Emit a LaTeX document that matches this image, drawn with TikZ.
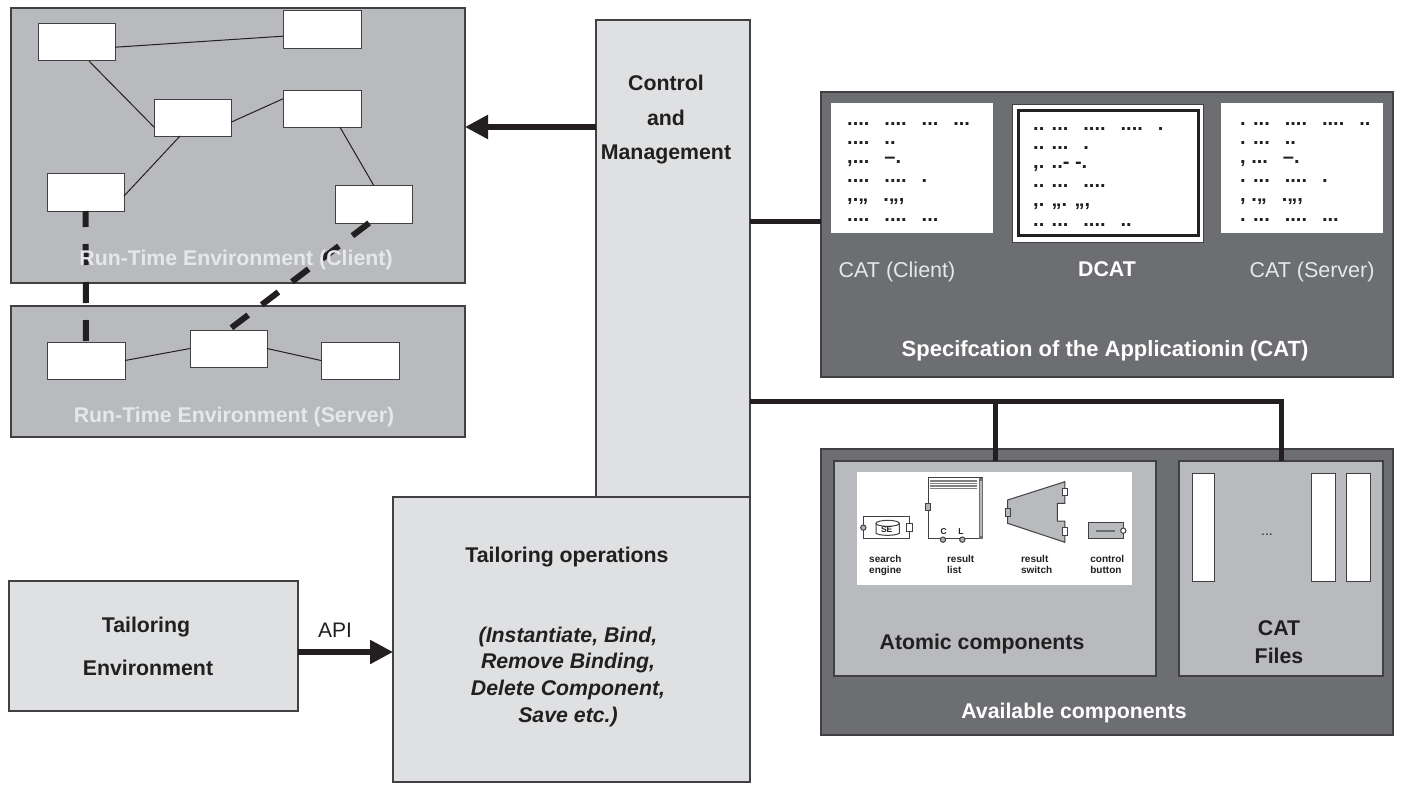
\documentclass[tikz,border=0pt]{standalone}
\usepackage{fontspec}
\setmainfont{Liberation Sans}
\usetikzlibrary{arrows.meta}
\definecolor{panelgray}{HTML}{B9BABD}
\definecolor{darkpanel}{HTML}{6D6E71}
\definecolor{lightpanel}{HTML}{DFE0E2}
\definecolor{ink}{HTML}{231F20}
\definecolor{edgegray}{HTML}{414042}
\definecolor{pale}{HTML}{E6E7E8}
\newcommand{\gp}{\hspace*{15pt}}
\tikzset{
 x=1pt,y=-1pt,
 panel/.style={draw=edgegray,line width=1.2pt,fill=panelgray,inner sep=0,outer sep=0},
 darkbox/.style={draw=edgegray,line width=1.2pt,fill=darkpanel,inner sep=0,outer sep=0},
 lightbox/.style={draw=edgegray,line width=1.1pt,fill=lightpanel,inner sep=0,outer sep=0},
 whitebox/.style={draw=edgegray,line width=1pt,fill=white,inner sep=0,outer sep=0},
 plainwhite/.style={fill=white,inner sep=0,outer sep=0},
 thinlink/.style={draw=ink,line width=1pt},
 dashlink/.style={draw=ink,line width=6pt,dash pattern=on 21pt off 17pt},
 thicklink/.style={draw=ink,line width=5pt},
 arrowlink/.style={draw=ink,line width=5.3pt,-{Triangle[length=23pt,width=23pt]}},
 label/.style={anchor=base,inner sep=0,font=\fontsize{21.3}{24}\selectfont\bfseries,text=ink},
 palelabel/.style={label,text=pale},
 ilabel/.style={label,font=\fontsize{21.3}{24}\selectfont\bfseries\itshape},
 catlabel/.style={anchor=base,inner sep=0,font=\fontsize{21.5}{24}\selectfont,text=pale},
 dots/.style={anchor=north west,inner sep=0,align=left,text=ink,font=\fontsize{20}{19.2}\selectfont\bfseries},
 icontext/.style={anchor=north,inner sep=0,align=left,text=ink,font=\fontsize{10}{11}\selectfont\bfseries},
 iconline/.style={draw=edgegray,line width=1pt},
}
\newcommand{\bx}[6]{\node[#1,minimum width=#5pt-#3pt,minimum height=#6pt-#4pt] (#2) at ({(#3+#5)/2},{(#4+#6)/2}) {};}
\begin{document}
\begin{tikzpicture}
\useasboundingbox (0,0) rectangle (1402,784);
% panels
\bx{panel}{client}{11}{8}{465}{283}
\bx{panel}{server}{11}{306}{465}{437}
% client boxes
\bx{whitebox}{A}{38}{24}{115}{61}
\bx{whitebox}{B}{283}{11}{361}{49}
\bx{whitebox}{C}{154}{99}{231}{136}
\bx{whitebox}{D}{283}{90}{361}{127}
\bx{whitebox}{E}{47}{173}{124}{211}
\bx{whitebox}{F}{335}{185}{412}{223}
% server boxes
\bx{whitebox}{G}{47}{342}{125}{379}
\bx{whitebox}{H}{190}{330}{267}{367}
\bx{whitebox}{I}{321}{342}{399}{379}
\draw[thinlink] (A.-7) -- (B.189);
\draw[thinlink] (A.-56) -- (C.194);
\draw[thinlink] (C.-7) -- (D.166);
\draw[thinlink] (C.236) -- (E.-6);
\draw[thinlink] (D.-46) -- (F.north);
\draw[thinlink] (G.east) -- (H.west);
\draw[thinlink] (H.east) -- (I.west);
\draw[dashlink,dash phase=5pt] (E.south) -- (G.north);
\draw[dashlink] (F.257) -- (H.north);
\node[palelabel] (clientlabel) at (236,265) {Run-Time Environment (Client)};
\node[palelabel] (serverlabel) at (234,422) {Run-Time Environment (Server)};
% control
\bx{lightbox}{control}{596}{20}{750}{497}
\bx{lightbox}{tailoring}{393}{497}{750}{782}
\bx{lightbox}{environment}{9}{581}{298}{711}
\node[label] (c1) at (666,90) {Control};
\node[label] (c2) at (666,125) {and};
\node[label] (c3) at (666,159) {Management};
\node[label] (t0) at (567,562) {Tailoring operations};
\node[ilabel] (t1) at (568,642) {(Instantiate, Bind,};
\node[ilabel] (t2) at (568,668) {Remove Binding,};
\node[ilabel] (t3) at (568,695) {Delete Component,};
\node[ilabel] (t4) at (568,722) {Save etc.)};
\node[label] (e1) at (146,632) {Tailoring};
\node[label] (e2) at (148,675) {Environment};
\node[anchor=base,inner sep=0,font=\fontsize{21}{24}\selectfont,text=ink] (api) at (335,637) {API};
% CAT panel
\bx{darkbox}{catpanel}{821}{92}{1393}{377}
\bx{plainwhite}{cat1}{831}{103}{993}{233}
\node[draw=edgegray,line width=.8pt,fill=white,inner sep=0,outer sep=0,minimum width=191pt,minimum height=138pt] (dcatouter) at (1107.5,173) {};
\node[draw=ink,line width=3.2pt,fill=white,inner sep=0,outer sep=0,minimum width=180pt,minimum height=125pt] (dcat) at (1108.5,173) {};
\bx{plainwhite}{cat2}{1221}{103}{1383}{233}
\node[dots] (d1) at (847,122) {....\gp....\gp...\gp...\\....\gp..\\,...\gp--.\\....\gp....\gp.\\,.,,\gp.,,,\\....\gp....\gp...};
\node[dots] (d2) at (1033,127) {.. ...\gp....\gp....\gp.\\.. ...\gp.\\,. ..- -.\\.. ...\gp....\\,. ,,. ,,,\\.. ...\gp....\gp..};
\node[dots] (d3) at (1240,122) {. ...\gp....\gp....\gp..\\. ...\gp..\\, ...\gp--.\\. ...\gp....\gp.\\, .,,\gp.,,,\\. ...\gp....\gp...};
\node[catlabel] (l1) at (897,277) {CAT (Client)};
\node[label,text=white] (l2) at (1107,276) {DCAT};
\node[catlabel] (l3) at (1312,277) {CAT (Server)};
\node[label,text=white,font=\fontsize{22}{24}\selectfont\bfseries] (l4) at (1105,356) {Specifcation of the Applicationin (CAT)};
% available panel
\bx{darkbox}{avail}{821}{449}{1393}{735}
\bx{panel}{atomic}{834}{461}{1156}{676}
\bx{panel}{files}{1179}{461}{1383}{676}
\bx{plainwhite}{pic}{857}{472}{1132}{585}
\bx{whitebox}{b1}{1192}{473}{1214}{581}
\bx{whitebox}{b2}{1311}{473}{1335}{581}
\bx{whitebox}{b3}{1346}{473}{1370}{581}
\node[anchor=base,inner sep=0,font=\fontsize{14}{16}\selectfont,text=ink] (ellipsis) at (1267,535) {...};
\node[label] (a1) at (982,649) {Atomic components};
\node[label] (a2) at (1279,635) {CAT};
\node[label] (a3) at (1279,663) {Files};
\node[label,text=white] (a4) at (1074,718) {Available components};
% icons
\begin{scope}[shift={(840,465)},x=0.3333pt,y=-0.3333pt]
 % search engine
 \draw[iconline] (70,153) rectangle (208,222);
 \fill[white] (105,165) rectangle (180,215);
 \draw[iconline,fill=gray!60] (70,188) circle (8);
 \draw[iconline,fill=white] (200,175) rectangle (216,200);
 \draw[iconline] (108,175) -- (108,205) .. controls (120,213) and (165,213) .. (178,205) -- (178,175);
 \draw[iconline] (143,175) ellipse (35 and 9);
 \node[inner sep=0,font=\fontsize{8.5}{9}\selectfont\bfseries,text=ink] (se) at (140,194) {SE};
 % result list
 \draw[iconline] (265,222) -- (265,38) -- (428,38) -- (428,222) -- cycle;
 \fill[darkpanel] (418,38) rectangle (428,222);
 \fill[panelgray] (420,48) rectangle (426,212);
 \foreach \yy in {45,50,55,60,65,70} \draw[draw=gray,line width=.5pt] (270,\yy) -- (410,\yy);
 \draw[iconline,fill=gray!60] (257,115) rectangle (272,135);
 \draw[iconline,fill=gray!60] (309,224) circle (8);
 \draw[iconline,fill=gray!60] (367,224) circle (8);
 \node[inner sep=0,font=\fontsize{8.5}{9}\selectfont\bfseries,text=ink] (cl) at (311,200) {C};
 \node[inner sep=0,font=\fontsize{8.5}{9}\selectfont\bfseries,text=ink] (ll) at (363,200) {L};
 % result switch
 \draw[iconline,fill=panelgray] (503,105) -- (675,50) -- (675,115) -- (652,115) -- (652,168) -- (675,168) -- (675,232) -- (503,175) -- cycle;
 \draw[iconline,fill=panelgray] (496,130) rectangle (511,155);
 \draw[iconline,fill=white] (668,70) rectangle (684,92);
 \draw[iconline,fill=white] (668,188) rectangle (684,212);
 % control button
 \draw[iconline,fill=panelgray] (745,172) rectangle (850,222);
 \fill[darkpanel] (767,195) rectangle (825,202);
 \draw[iconline,fill=white] (850,197) circle (8);
 % captions
 \node[icontext] (i1) at (136,270) {search\\engine};
 \node[icontext] (i2) at (362,270) {result\\list};
 \node[icontext] (i3) at (590,270) {result\\switch};
 \node[icontext] (i4) at (802,270) {control\\button};
\end{scope}
% connectors
\draw[arrowlink] (control.west |- 0,127) -- (client.east |- 0,127);
\draw[arrowlink] (environment.east |- 0,652) -- (tailoring.west |- 0,652);
\draw[thicklink] (control.east |- 0,221) -- (catpanel.west |- 0,221);
\draw[thicklink] (control.east |- 0,401) -| (files.north);
\draw[thicklink] (atomic.north |- 0,401) -- (atomic.north);
\end{tikzpicture}
\end{document}
